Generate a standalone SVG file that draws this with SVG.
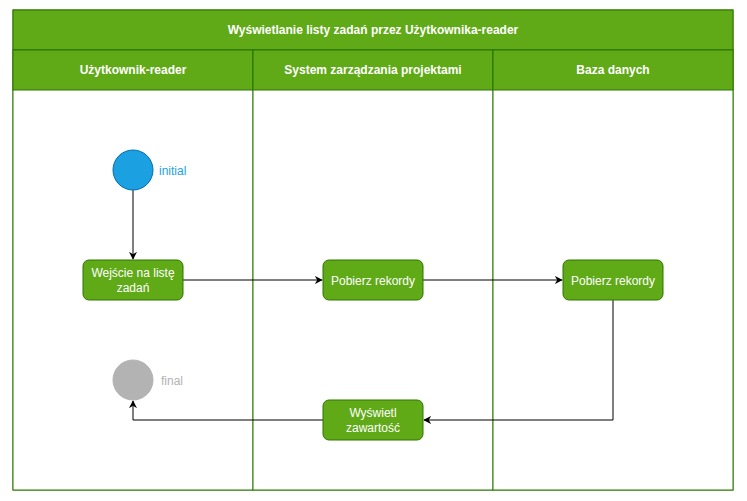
<svg xmlns="http://www.w3.org/2000/svg" width="747" height="501" viewBox="0 0 747 501">
<defs>
<style>
.lane{fill:#ffffff;stroke:#2D7600;stroke-width:1}
.hdr{fill:#60A917;stroke:#2D7600;stroke-width:1}
.ht{font-family:"Liberation Sans",Arial,sans-serif;font-size:12px;font-weight:bold;fill:#ffffff;text-anchor:middle;dominant-baseline:central}
.act rect{fill:#60A917;stroke:#2D7600;stroke-width:1}
.act text{font-family:"Liberation Sans",Arial,sans-serif;font-size:12px;fill:#ffffff;text-anchor:middle;dominant-baseline:central}
.edge{fill:none;stroke:#000000;stroke-width:1}
.lbl{font-family:"Liberation Sans",Arial,sans-serif;font-size:12px;dominant-baseline:central}
</style>
<marker id="arr" viewBox="0 0 10 10" refX="9" refY="5" markerWidth="8" markerHeight="8" markerUnits="userSpaceOnUse" orient="auto">
<path d="M0,0 L10,5 L0,10 L3,5 Z" fill="#000000"/>
</marker>
</defs>
<rect width="747" height="501" fill="#ffffff"/>
<g id="pool">
<rect class="lane" x="13" y="10" width="720" height="480"/>
<rect class="hdr" x="13" y="10" width="720" height="40"/>
<text class="ht" x="373" y="30">Wyświetlanie listy zadań przez Użytkownika-reader</text>
</g>
<g id="lane1">
<rect class="lane" x="13" y="50" width="240" height="440"/>
<rect class="hdr" x="13" y="50" width="240" height="40"/>
<text class="ht" x="133" y="70">Użytkownik-reader</text>
</g>
<g id="lane2">
<rect class="lane" x="253" y="50" width="240" height="440"/>
<rect class="hdr" x="253" y="50" width="240" height="40"/>
<text class="ht" x="373" y="70">System zarządzania projektami</text>
</g>
<g id="lane3">
<rect class="lane" x="493" y="50" width="240" height="440"/>
<rect class="hdr" x="493" y="50" width="240" height="40"/>
<text class="ht" x="613" y="70">Baza danych</text>
</g>
<g id="edges">
<path class="edge" d="M133,190 L133,259" marker-end="url(#arr)"/>
<path class="edge" d="M183,280 L322,280" marker-end="url(#arr)"/>
<path class="edge" d="M423,280 L562,280" marker-end="url(#arr)"/>
<path class="edge" d="M613,300 L613,420 L424,420" marker-end="url(#arr)"/>
<path class="edge" d="M323,420 L133,420 L133,401" marker-end="url(#arr)"/>
</g>
<g id="initial">
<circle cx="133" cy="170" r="20" fill="#1BA1E2" stroke="#006EAF" stroke-width="1"/>
<text class="lbl" x="159" y="171" fill="#1BA1E2">initial</text>
</g>
<g id="wejscie" class="act">
<rect x="83" y="260" width="100" height="40" rx="6" ry="6"/>
<text x="133" y="273">Wejście na listę</text>
<text x="133" y="288">zadań</text>
</g>
<g id="pobierz1" class="act">
<rect x="323" y="260" width="100" height="40" rx="6" ry="6"/>
<text x="373" y="281">Pobierz rekordy</text>
</g>
<g id="pobierz2" class="act">
<rect x="563" y="260" width="100" height="40" rx="6" ry="6"/>
<text x="613" y="281">Pobierz rekordy</text>
</g>
<g id="wyswietl" class="act">
<rect x="323" y="400" width="100" height="40" rx="6" ry="6"/>
<text x="373" y="413">Wyświetl</text>
<text x="373" y="428">zawartość</text>
</g>
<g id="final">
<circle cx="133" cy="380" r="20" fill="#B3B3B3" stroke="#B3B3B3" stroke-width="1"/>
<text class="lbl" x="161" y="381" fill="#B3B3B3">final</text>
</g>
</svg>
